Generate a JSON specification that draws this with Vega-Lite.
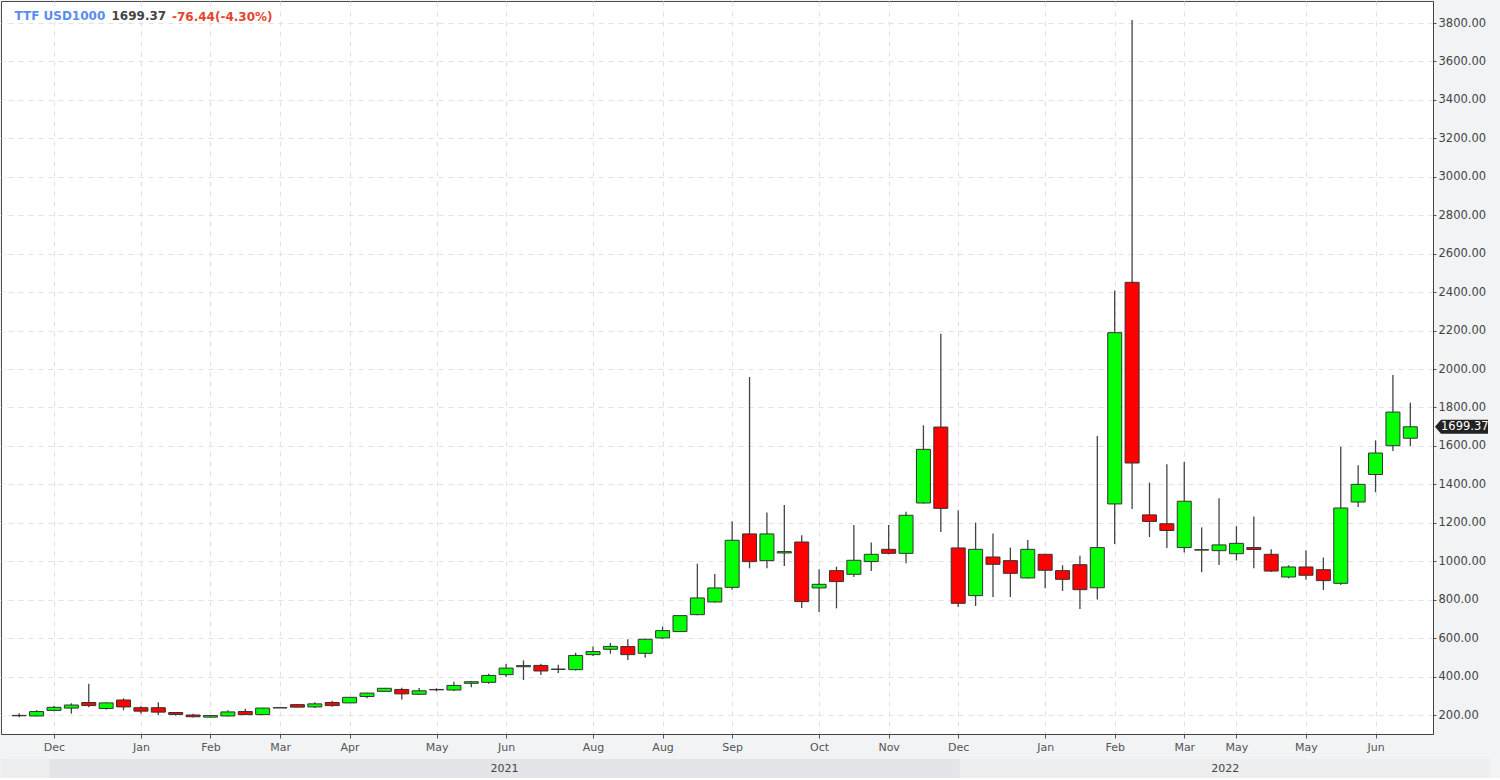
{
  "$schema": "https://vega.github.io/schema/vega-lite/v6.json",
  "background": "#f2f3f5",
  "padding": 0,
  "autosize": {"type": "pad"},
  "spacing": 6,
  "config": {
    "font": "DejaVu Sans",
    "axis": {"labelFont": "DejaVu Sans", "titleFont": "DejaVu Sans"}
  },
  "datasets": {
    "candles": [
      {"i":0,"o":196,"h":209,"l":188,"c":198},
      {"i":1,"o":195,"h":225,"l":193,"c":218},
      {"i":2,"o":224,"h":247,"l":220,"c":240},
      {"i":3,"o":236,"h":261,"l":207,"c":252},
      {"i":4,"o":265,"h":362,"l":240,"c":249},
      {"i":5,"o":234,"h":267,"l":227,"c":263},
      {"i":6,"o":278,"h":287,"l":225,"c":242},
      {"i":7,"o":238,"h":245,"l":206,"c":220},
      {"i":8,"o":238,"h":267,"l":200,"c":215},
      {"i":9,"o":213,"h":216,"l":196,"c":203},
      {"i":10,"o":200,"h":207,"l":187,"c":191},
      {"i":11,"o":189,"h":200,"l":186,"c":197},
      {"i":12,"o":195,"h":225,"l":192,"c":216},
      {"i":13,"o":218,"h":232,"l":200,"c":202},
      {"i":14,"o":202,"h":238,"l":200,"c":236},
      {"i":15,"o":237,"h":239,"l":237,"c":238},
      {"i":16,"o":254,"h":256,"l":239,"c":241},
      {"i":17,"o":242,"h":267,"l":236,"c":258},
      {"i":18,"o":265,"h":274,"l":243,"c":249},
      {"i":19,"o":263,"h":293,"l":262,"c":292},
      {"i":20,"o":296,"h":316,"l":287,"c":314},
      {"i":21,"o":323,"h":341,"l":321,"c":339},
      {"i":22,"o":333,"h":342,"l":281,"c":310},
      {"i":23,"o":308,"h":341,"l":305,"c":326},
      {"i":24,"o":331,"h":339,"l":323,"c":333},
      {"i":25,"o":330,"h":373,"l":325,"c":354},
      {"i":26,"o":365,"h":377,"l":344,"c":373},
      {"i":27,"o":370,"h":415,"l":363,"c":406},
      {"i":28,"o":410,"h":465,"l":398,"c":444},
      {"i":29,"o":451,"h":484,"l":382,"c":457},
      {"i":30,"o":458,"h":467,"l":408,"c":429},
      {"i":31,"o":437,"h":462,"l":418,"c":439},
      {"i":32,"o":436,"h":524,"l":432,"c":510},
      {"i":33,"o":514,"h":556,"l":507,"c":530},
      {"i":34,"o":542,"h":575,"l":519,"c":557},
      {"i":35,"o":556,"h":594,"l":486,"c":514},
      {"i":36,"o":521,"h":598,"l":498,"c":594},
      {"i":37,"o":601,"h":660,"l":595,"c":639},
      {"i":38,"o":634,"h":718,"l":632,"c":717},
      {"i":39,"o":722,"h":987,"l":719,"c":809},
      {"i":40,"o":788,"h":934,"l":785,"c":861},
      {"i":41,"o":864,"h":1208,"l":852,"c":1109},
      {"i":42,"o":1142,"h":1958,"l":963,"c":998},
      {"i":43,"o":1003,"h":1253,"l":963,"c":1142},
      {"i":44,"o":1043,"h":1293,"l":975,"c":1050},
      {"i":45,"o":1100,"h":1135,"l":757,"c":790},
      {"i":46,"o":861,"h":958,"l":736,"c":880},
      {"i":47,"o":951,"h":972,"l":755,"c":894},
      {"i":48,"o":932,"h":1189,"l":918,"c":1005},
      {"i":49,"o":998,"h":1097,"l":949,"c":1036},
      {"i":50,"o":1062,"h":1189,"l":1036,"c":1041},
      {"i":51,"o":1041,"h":1258,"l":989,"c":1239},
      {"i":52,"o":1303,"h":1707,"l":1300,"c":1582},
      {"i":53,"o":1698,"h":2184,"l":1152,"c":1275},
      {"i":54,"o":1069,"h":1265,"l":762,"c":781},
      {"i":55,"o":821,"h":1201,"l":767,"c":1062},
      {"i":56,"o":1022,"h":1144,"l":814,"c":984},
      {"i":57,"o":1003,"h":1071,"l":814,"c":937},
      {"i":58,"o":913,"h":1111,"l":910,"c":1062},
      {"i":59,"o":1036,"h":1038,"l":859,"c":953},
      {"i":60,"o":951,"h":979,"l":845,"c":906},
      {"i":61,"o":982,"h":1028,"l":751,"c":852},
      {"i":62,"o":862,"h":1652,"l":801,"c":1071},
      {"i":63,"o":1298,"h":2408,"l":1089,"c":2189},
      {"i":64,"o":2451,"h":3816,"l":1272,"c":1511},
      {"i":65,"o":1241,"h":1409,"l":1126,"c":1207},
      {"i":66,"o":1195,"h":1505,"l":1069,"c":1160},
      {"i":67,"o":1071,"h":1517,"l":1045,"c":1312},
      {"i":68,"o":1058,"h":1176,"l":943,"c":1060},
      {"i":69,"o":1055,"h":1328,"l":980,"c":1085},
      {"i":70,"o":1039,"h":1182,"l":1004,"c":1093},
      {"i":71,"o":1071,"h":1233,"l":964,"c":1061},
      {"i":72,"o":1036,"h":1062,"l":944,"c":949},
      {"i":73,"o":918,"h":979,"l":911,"c":970},
      {"i":74,"o":970,"h":1057,"l":904,"c":927},
      {"i":75,"o":956,"h":1019,"l":850,"c":899},
      {"i":76,"o":885,"h":1596,"l":876,"c":1277},
      {"i":77,"o":1308,"h":1499,"l":1282,"c":1400},
      {"i":78,"o":1451,"h":1629,"l":1359,"c":1563},
      {"i":79,"o":1601,"h":1969,"l":1574,"c":1776},
      {"i":80,"o":1640,"h":1825,"l":1600,"c":1699.37}
    ],
    "last": [{"price": 1699.37}],
    "years": [
      {"year": "2020", "start": -0.76, "end": 2},
      {"year": "2021", "start": 2, "end": 54},
      {"year": "2022", "start": 54, "end": 84.3}
    ]
  },
  "vconcat": [
    {
      "width": 1432,
      "height": 733,
      "view": {"fill": "#ffffff", "stroke": "#4a4a4a", "strokeWidth": 1},
      "title": {
        "text": "-76.44(-4.30%)",
        "anchor": "start",
        "frame": "group",
        "orient": "top",
        "offset": 0,
        "dx": 171,
        "dy": 32,
        "baseline": "alphabetic",
        "color": "#e5452e",
        "font": "DejaVu Sans",
        "fontSize": 12,
        "fontWeight": "bold"
      },
      "layer": [
        {
          "data": {"name": "candles"},
          "mark": {"type": "rule", "color": "#444444", "strokeWidth": 1.3},
          "encoding": {
            "x": {
              "field": "i", "type": "quantitative",
              "scale": {"domain": [-0.7596, 81.017], "nice": false, "zero": false},
              "axis": {
                "orient": "bottom",
                "values": [2, 7, 11, 15, 19, 24, 28, 33, 37, 41, 46, 50, 54, 59, 63, 67, 70, 74, 78],
                "labelExpr": "['Dec','Jan','Feb','Mar','Apr','May','Jun','Aug','Aug','Sep','Oct','Nov','Dec','Jan','Feb','Mar','May','May','Jun'][indexof([2,7,11,15,19,24,28,33,37,41,46,50,54,59,63,67,70,74,78], datum.value)]",
                "grid": true,
                "gridDash": [5, 5],
                "gridColor": "#e2e2e2",
                "tickSize": 4,
                "tickColor": "#555555",
                "domainColor": "#444444",
                "labelColor": "#555555",
                "labelFontSize": 11,
                "labelPadding": 3,
                "labelFlush": false,
                "labelOverlap": false,
                "title": "TTF USD1000",
                "titleX": 13,
                "titleY": -715,
                "titleAngle": 0,
                "titleAlign": "left",
                "titleBaseline": "alphabetic",
                "titleColor": "#5a8dee",
                "titleFontSize": 12,
                "titleFontWeight": "bold"
              }
            },
            "y": {
              "field": "l", "type": "quantitative",
              "scale": {"domain": [101.2, 3914.5], "nice": false, "zero": false},
              "axis": {
                "orient": "right",
                "values": [200, 400, 600, 800, 1000, 1200, 1400, 1600, 1800, 2000, 2200, 2400, 2600, 2800, 3000, 3200, 3400, 3600, 3800],
                "format": ".2f",
                "grid": true,
                "gridDash": [5, 5],
                "gridColor": "#e2e2e2",
                "tickSize": 3,
                "tickColor": "#555555",
                "domainColor": "#444444",
                "labelColor": "#444444",
                "labelFontSize": 11.5,
                "labelPadding": 2,
                "title": "1699.37",
                "titleX": -1322,
                "titleY": 18,
                "titleAngle": 0,
                "titleAlign": "left",
                "titleBaseline": "alphabetic",
                "titleColor": "#444444",
                "titleFontSize": 12,
                "titleFontWeight": "bold"
              }
            },
            "y2": {"field": "h"}
          }
        },
        {
          "data": {"name": "candles"},
          "mark": {"type": "bar", "width": 14, "stroke": "#333333", "strokeWidth": 1},
          "encoding": {
            "x": {"field": "i", "type": "quantitative", "scale": {"domain": [-0.7596, 81.017], "nice": false, "zero": false}},
            "y": {"field": "o", "type": "quantitative", "scale": {"domain": [101.2, 3914.5], "nice": false, "zero": false}},
            "y2": {"field": "c"},
            "fill": {"condition": {"test": "datum.c >= datum.o", "value": "#00ff00"}, "value": "#ff0000"}
          }
        },
        {
          "data": {"name": "last"},
          "mark": {"type": "point", "shape": "M2,0L8,-7L55,-7L55,7L8,7Z", "size": 4, "filled": true, "fill": "#222222", "strokeWidth": 0, "opacity": 1, "clip": false},
          "encoding": {
            "x": {"value": "width"},
            "y": {"field": "price", "type": "quantitative", "scale": {"domain": [101.2, 3914.5], "nice": false, "zero": false}}
          }
        },
        {
          "data": {"name": "last"},
          "mark": {"type": "text", "align": "left", "baseline": "middle", "dx": 8, "color": "#ffffff", "fontSize": 11.5, "font": "DejaVu Sans", "clip": false},
          "encoding": {
            "x": {"value": "width"},
            "y": {"field": "price", "type": "quantitative", "scale": {"domain": [101.2, 3914.5], "nice": false, "zero": false}},
            "text": {"field": "price", "type": "quantitative", "format": ".2f"}
          }
        }
      ]
    },
    {
      "width": 1500,
      "height": 19,
      "view": {"stroke": null},
      "data": {"name": "years"},
      "layer": [
        {
          "mark": {"type": "rect"},
          "encoding": {
            "x": {"field": "start", "type": "quantitative", "scale": {"domain": [-0.7596, 84.9], "nice": false, "zero": false}, "axis": null},
            "x2": {"field": "end"},
            "fill": {"condition": {"test": "datum.year == '2021'", "value": "#e4e5e8"}, "value": "#eceef0"}
          }
        },
        {
          "transform": [
            {"filter": "datum.year != '2020'"},
            {"calculate": "(datum.start + datum.end) / 2", "as": "mid"}
          ],
          "mark": {"type": "text", "color": "#444444", "fontSize": 11, "font": "DejaVu Sans", "baseline": "middle"},
          "encoding": {
            "x": {"field": "mid", "type": "quantitative", "scale": {"domain": [-0.7596, 84.9], "nice": false, "zero": false}, "axis": null},
            "text": {"field": "year"}
          }
        }
      ]
    }
  ]
}
